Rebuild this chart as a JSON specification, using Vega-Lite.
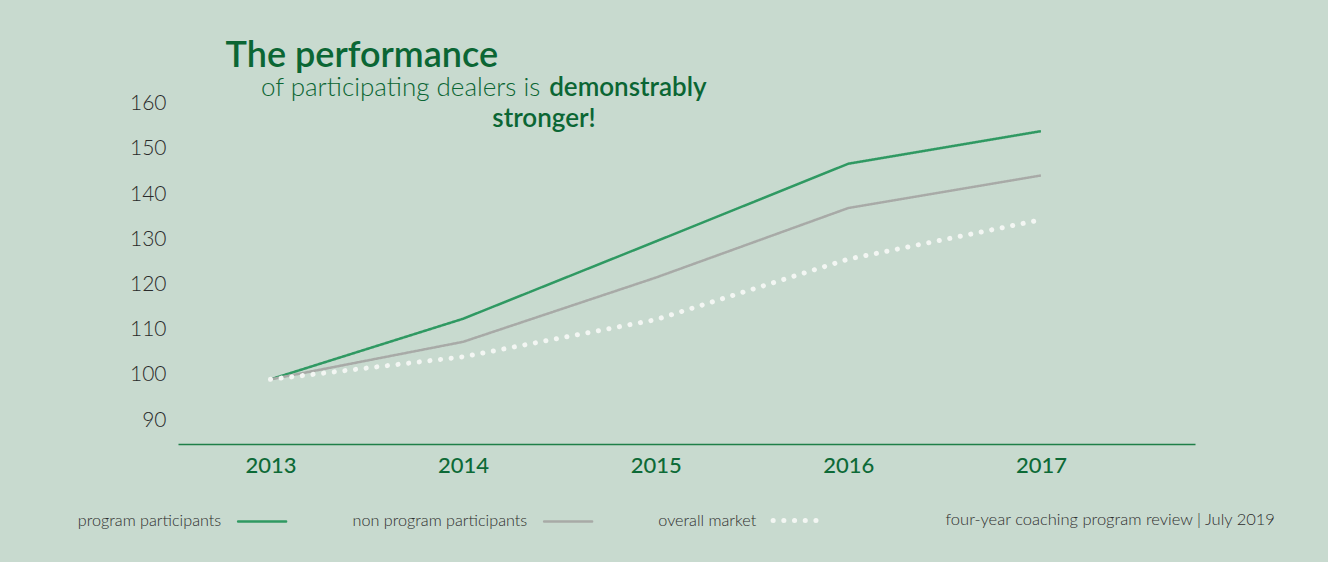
{
  "$schema": "https://vega.github.io/schema/vega-lite/v6.json",
  "autosize": "none",
  "width": 1017,
  "height": 363,
  "padding": {"left": 178, "top": 81, "right": 133, "bottom": 118},
  "background": "#c8dacf",
  "config": {
    "view": {"stroke": null},
    "font": "Lato"
  },
  "datasets": {
    "series": [
      {"series": "program participants", "year": 2013, "value": 99},
      {"series": "program participants", "year": 2014, "value": 112.4},
      {"series": "program participants", "year": 2015, "value": 129.5},
      {"series": "program participants", "year": 2016, "value": 146.7},
      {"series": "program participants", "year": 2017, "value": 153.9},
      {"series": "non program participants", "year": 2013, "value": 99},
      {"series": "non program participants", "year": 2014, "value": 107.3},
      {"series": "non program participants", "year": 2015, "value": 121.5},
      {"series": "non program participants", "year": 2016, "value": 136.9},
      {"series": "non program participants", "year": 2017, "value": 144.1},
      {"series": "overall market", "year": 2013, "value": 99},
      {"series": "overall market", "year": 2014, "value": 104.0},
      {"series": "overall market", "year": 2015, "value": 112.2},
      {"series": "overall market", "year": 2016, "value": 125.6},
      {"series": "overall market", "year": 2017, "value": 134.3}
    ],
    "heading": [
      {"part": "title", "text": "The performance"},
      {"part": "light", "text": "of participating dealers is"},
      {"part": "bold1", "text": "demonstrably"},
      {"part": "bold2", "text": "stronger!"},
      {"part": "footer", "text": "four-year coaching program review | July 2019"}
    ]
  },
  "layer": [
    {
      "data": {"name": "series"},
      "transform": [{"filter": "datum.series !== 'overall market'"}],
      "mark": {"type": "line", "strokeWidth": 2.5, "strokeJoin": "round"},
      "encoding": {
        "x": {
          "field": "year",
          "type": "quantitative",
          "scale": {"domain": [2012.52, 2017.8], "nice": false, "zero": false},
          "axis": {
            "title": null,
            "values": [2013, 2014, 2015, 2016, 2017],
            "format": "d",
            "grid": false,
            "ticks": false,
            "domainColor": "#1f7f48",
            "domainWidth": 1.6,
            "labelFont": "Lato",
            "labelFontSize": 22,
            "labelFontWeight": 500,
            "labelColor": "#0d6a37",
            "labelPadding": 11,
            "labelFlush": false
          }
        },
        "y": {
          "field": "value",
          "type": "quantitative",
          "scale": {"domain": [84.7, 165], "nice": false, "zero": false},
          "axis": {
            "title": null,
            "values": [90, 100, 110, 120, 130, 140, 150, 160],
            "grid": false,
            "ticks": false,
            "domain": false,
            "labelFont": "Lato",
            "labelFontSize": 21,
            "labelFontWeight": 300,
            "labelColor": "#2a2a2a",
            "labelPadding": 12
          }
        },
        "color": {
          "field": "series",
          "type": "nominal",
          "scale": {
            "domain": ["program participants", "non program participants", "overall market"],
            "range": ["#2f9962", "#a8aaa7", "#f3f6f3"]
          },
          "legend": {
            "title": null,
            "orient": "none",
            "direction": "horizontal",
            "legendX": 76,
            "legendY": 431,
            "symbolType": "stroke",
            "symbolSize": 2304,
            "labelAlign": "right",
            "labelOffset": -49,
            "labelFont": "Lato",
            "labelFontSize": 16.2,
            "labelFontWeight": 300,
            "labelColor": "#2e2e2e",
            "columnPadding": 60,
            "labelLimit": 400,
            "encode": {
              "symbols": {
                "update": {
                  "strokeCap": {"value": "round"},
                  "strokeWidth": {"signal": "datum.value === 'overall market' ? 5 : 2.5"}
                }
              }
            }
          }
        },
        "strokeDash": {
          "field": "series",
          "type": "nominal",
          "scale": {
            "domain": ["program participants", "non program participants", "overall market"],
            "range": [[1, 0], [1, 0], [0.1, 10.6]]
          }
        }
      }
    },
    {
      "data": {"name": "series"},
      "transform": [{"filter": "datum.series === 'overall market'"}],
      "mark": {"type": "line", "strokeWidth": 5, "strokeCap": "round", "strokeJoin": "round"},
      "encoding": {
        "x": {"field": "year", "type": "quantitative"},
        "y": {"field": "value", "type": "quantitative"},
        "color": {"field": "series", "type": "nominal"},
        "strokeDash": {"field": "series", "type": "nominal"}
      }
    },
    {
      "data": {"name": "heading"},
      "transform": [{"filter": "datum.part === 'title'"}],
      "mark": {"type": "text", "align": "left", "baseline": "alphabetic", "font": "Lato", "fontSize": 36, "fontWeight": 600, "color": "#0b6634"},
      "encoding": {
        "x": {"datum": 2012.767},
        "y": {"datum": 168.2},
        "text": {"field": "text"}
      }
    },
    {
      "data": {"name": "heading"},
      "transform": [{"filter": "datum.part === 'light'"}],
      "mark": {"type": "text", "align": "right", "baseline": "alphabetic", "font": "Lato", "fontSize": 26, "fontWeight": 300, "color": "#0b6634"},
      "encoding": {
        "x": {"datum": 2014.401},
        "y": {"datum": 161.6},
        "text": {"field": "text"}
      }
    },
    {
      "data": {"name": "heading"},
      "transform": [{"filter": "datum.part === 'bold1'"}],
      "mark": {"type": "text", "align": "left", "baseline": "alphabetic", "font": "Lato", "fontSize": 26, "fontWeight": 600, "color": "#0b6634"},
      "encoding": {
        "x": {"datum": 2014.447},
        "y": {"datum": 161.6},
        "text": {"field": "text"}
      }
    },
    {
      "data": {"name": "heading"},
      "transform": [{"filter": "datum.part === 'bold2'"}],
      "mark": {"type": "text", "align": "left", "baseline": "alphabetic", "font": "Lato", "fontSize": 26, "fontWeight": 600, "color": "#0b6634"},
      "encoding": {
        "x": {"datum": 2014.152},
        "y": {"datum": 154.9},
        "text": {"field": "text"}
      }
    },
    {
      "data": {"name": "heading"},
      "transform": [{"filter": "datum.part === 'footer'"}],
      "mark": {"type": "text", "align": "right", "baseline": "alphabetic", "font": "Lato", "fontSize": 16.5, "fontWeight": 300, "color": "#2e2e2e"},
      "encoding": {
        "x": {"datum": 2018.215},
        "y": {"datum": 66.8},
        "text": {"field": "text"}
      }
    }
  ]
}
